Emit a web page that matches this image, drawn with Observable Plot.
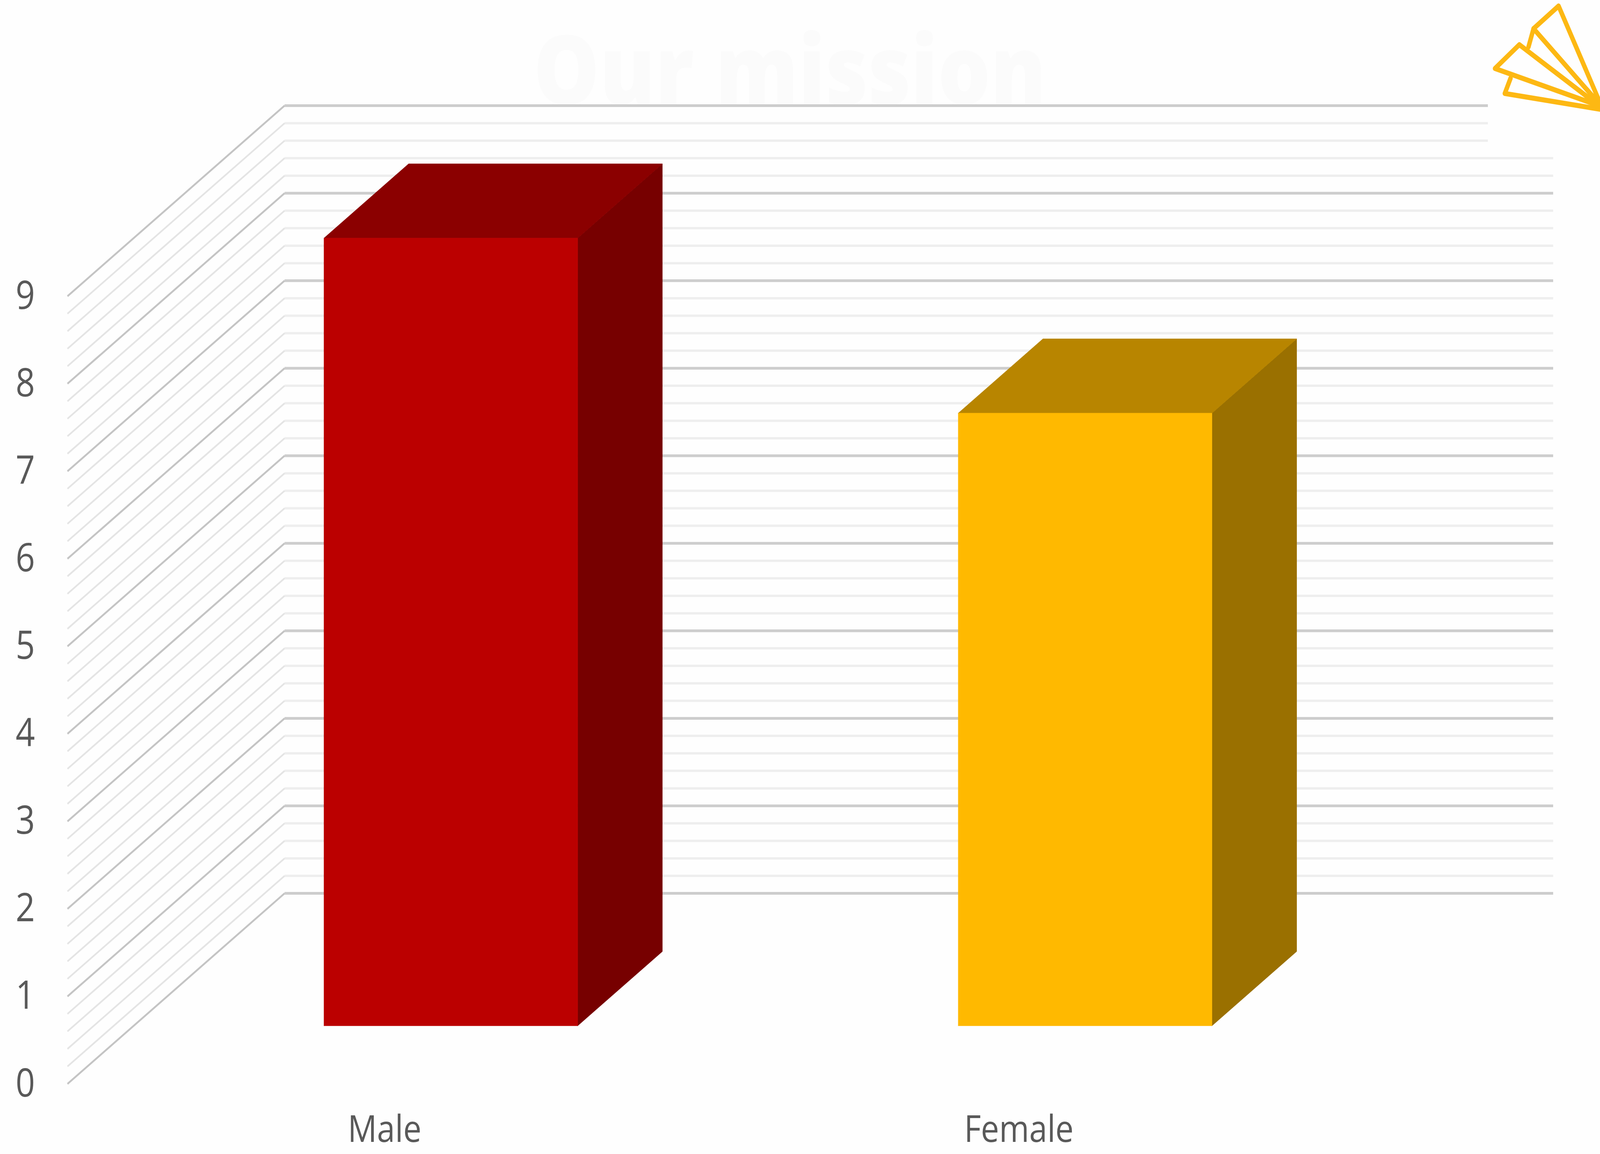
<!DOCTYPE html>
<html>
<head>
<meta charset="utf-8">
<script src="https://cdn.jsdelivr.net/npm/d3@7"></script>
<script src="https://cdn.jsdelivr.net/npm/@observablehq/plot@0.6"></script>
<style>
html,body{margin:0;padding:0;background:#fefefe;overflow:hidden}
svg{display:block}
</style>
</head>
<body>
<script>
const categories = ["Male", "Female"];
const values = [9, 7];
const frontColors = ["#bb0000", "#ffb900"];
const topColors = ["#8b0000", "#b88500"];
const sideColors = ["#770000", "#9a7000"];
const majorTicks = [0,1,2,3,4,5,6,7,8,9];
const minorTicks = [0.2,0.4,0.6,0.8,1.2,1.4,1.6,1.8,2.2,2.4,2.6,2.8,3.2,3.4,3.6,3.8,4.2,4.4,4.6,4.8,5.2,5.4,5.6,5.8,6.2,6.4,6.6,6.8,7.2,7.4,7.6,7.8,8.2,8.4,8.6,8.8];
const titleText = "Our mission";

// Oblique projection of the chart's third dimension, in category / value units
const depthX = 0.3423, depthY = 2.177;
const barWidth = 0.4, barDepthFrom = 0.305, barDepthTo = 0.695;
const wallEnd = categories.length;
const px = (v) => (v - 199) / 1875.5, py = (v) => (2775 - v) / 224.1;

// Decorative paper-plane logo in the top right corner
const logoPaths = [
  [[4745,292],[4608,15],[4534,73],[4727,264]],
  [[4534,73],[4519,120]],
  [[4727,270],[4492,114],[4420,175],[4727,270]],
  [[4466,200],[4449,239],[4735,280]]
];
const logoRows = logoPaths.flatMap((p, i) => p.map(([a, b]) => ({x: px(a), y: py(b), z: i})));

const proj = (u, v, d) => ({x: u + d * depthX, y: v + d * depthY});

const gridRows = (ticks) => ticks.map((v) => ({
  fx: 0, fy: v,
  bx: proj(0, v, 1).x, by: proj(0, v, 1).y,
  ex: proj(v >= 8.6 ? px(4399) - depthX : wallEnd, v, 1).x
}));

const faces = categories.flatMap((c, i) => {
  const l = i + 0.5 - barWidth / 2, r = i + 0.5 + barWidth / 2, v = values[i];
  const a = barDepthFrom, b = barDepthTo;
  return [
    {color: sideColors[i], pts: [proj(r,0,a), proj(r,v,a), proj(r,v,b), proj(r,0,b)]},
    {color: topColors[i], pts: [proj(l,v,a), proj(r,v,a), proj(r,v,b), proj(l,v,b)]},
    {color: frontColors[i], pts: [proj(l,0,a), proj(r,0,a), proj(r,v,a), proj(l,v,a)]}
  ];
});

const chart = Plot.plot({
  width: 4731,
  height: 2955,
  marginLeft: 103, marginRight: 0, marginTop: 0, marginBottom: 0,
  x: {type: "linear", domain: [0, 2], range: [199, 3950], axis: null},
  y: {type: "linear", domain: [0, 9], range: [2775, 758], axis: null},
  style: {background: "#fefefe", color: "#595959", fontFamily: "'Open Sans', sans-serif", width: "100vw", height: "100vh", maxWidth: "none"},
  marks: [
    Plot.text([titleText], {
      x: px(2335), y: py(267), text: (d) => d, lineAnchor: "bottom",
      fontSize: 245, fontWeight: 800, fill: "#fbfbfb", fontFamily: "'Open Sans', sans-serif"
    }),
    Plot.link(gridRows(minorTicks), {x1: "bx", y1: "by", x2: "ex", y2: "by", stroke: "#eeeeee", strokeWidth: 6}),
    Plot.link(gridRows(majorTicks), {x1: "bx", y1: "by", x2: "ex", y2: "by", stroke: "#cdcdcd", strokeWidth: 7}),
    Plot.link(gridRows(minorTicks), {x1: "fx", y1: "fy", x2: "bx", y2: "by", stroke: "#e4e4e4", strokeWidth: 4.5}),
    Plot.link(gridRows(majorTicks), {x1: "fx", y1: "fy", x2: "bx", y2: "by", stroke: "#c4c4c4", strokeWidth: 5}),
    ...faces.map((f) => Plot.line(f.pts.concat([f.pts[0]]), {
      x: "x", y: "y", fill: f.color, stroke: f.color, strokeWidth: 1
    })),
    Plot.axisY({ticks: majorTicks, tickSize: 0, tickPadding: 0, tickFormat: (d) => String(d), label: null, fontSize: 100}),
    Plot.text(categories, {
      x: (d, i) => i + 0.5, y: () => 0, text: (d) => d, dy: 118,
      fontSize: 96, fill: "#595959"
    }),
    Plot.line(logoRows, {x: "x", y: "y", z: "z", stroke: "#fdb813", strokeWidth: 13, strokeLinejoin: "round"})
  ]
});
// Fill the browser window exactly, whatever size it really opens at
chart.setAttribute("preserveAspectRatio", "none");
document.body.append(chart);
</script>
</body>
</html>
